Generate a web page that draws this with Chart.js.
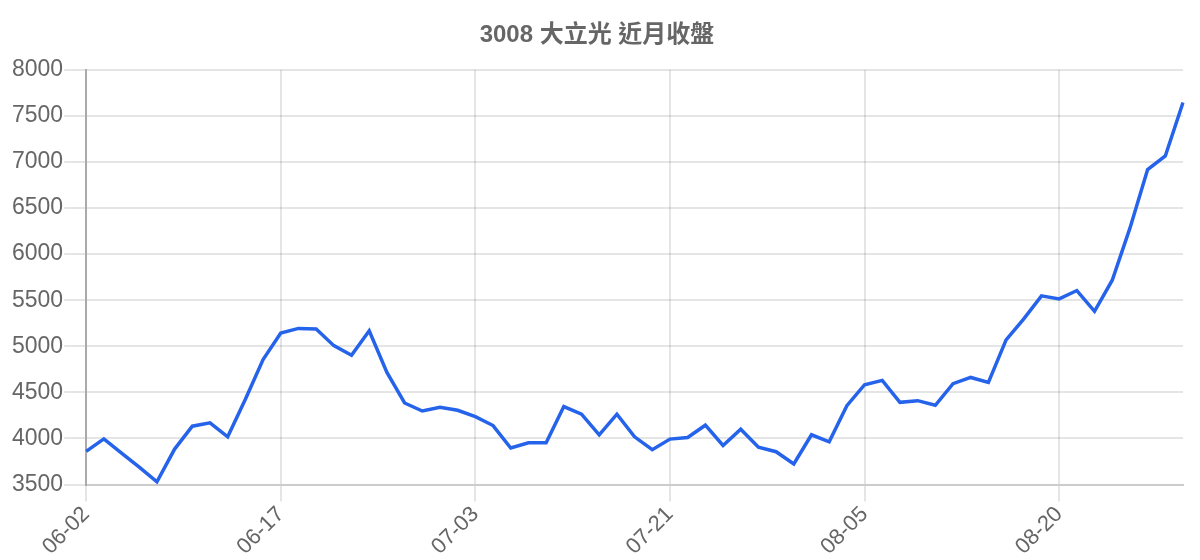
<!DOCTYPE html>
<html>
<head>
<meta charset="utf-8">
<script src="https://cdn.jsdelivr.net/npm/chart.js@4"></script>
<style>
  html, body { margin: 0; padding: 0; background: #fff; }
  #wrap { width: 1200px; height: 560px; }
</style>
</head>
<body>
<div id="wrap"><canvas id="c"></canvas></div>
<script>
const title = "3008 大立光 近月收盤";
const dates = [
  "06-02","06-03","06-04","06-05","06-06","06-09","06-10","06-11","06-12","06-13",
  "06-16","06-17","06-18","06-19","06-20","06-23","06-24","06-25","06-26","06-30",
  "07-01","07-02","07-03","07-04","07-07","07-08","07-09","07-10","07-14","07-15",
  "07-16","07-17","07-18","07-21","07-22","07-23","07-24","07-25","07-28","07-29",
  "07-30","07-31","08-01","08-04","08-05","08-06","08-07","08-08","08-11","08-12",
  "08-13","08-14","08-15","08-18","08-19","08-20","08-21","08-22","08-25","08-26",
  "08-27","08-28","08-29"
];
const closes = [
  3860, 3995, 3840, 3690, 3530, 3885, 4133, 4169, 4018, 4425,
  4857, 5144, 5194, 5187, 5007, 4902, 5169, 4716, 4385, 4298,
  4338, 4306, 4237, 4140, 3896, 3953, 3953, 4346, 4263, 4040,
  4263, 4018, 3878, 3993, 4011, 4144, 3924, 4101, 3906, 3856,
  3723, 4040, 3964, 4356, 4583, 4630, 4392, 4410, 4360, 4594,
  4662, 4609, 5069, 5297, 5547, 5514, 5605, 5380, 5717, 6282,
  6917, 7065, 7645
];
const yMin = 3500, yMax = 8000, yStep = 500;

const fontFamily = "'Liberation Sans', Arial, 'Noto Sans CJK TC', sans-serif";

new Chart(document.getElementById('c'), {
  type: 'line',
  data: {
    labels: dates,
    datasets: [{
      label: title,
      data: closes,
      borderColor: '#2563eb',
      backgroundColor: '#2563eb',
      borderWidth: 3.5,
      pointRadius: 0,
      pointHoverRadius: 4,
      tension: 0,
      fill: false
    }]
  },
  options: {
    responsive: true,
    maintainAspectRatio: false,
    animation: false,
    layout: { padding: { top: 11, right: 17, bottom: 0, left: 11 } },
    plugins: {
      legend: { display: false },
      title: {
        display: true,
        text: title,
        color: '#666',
        font: { family: fontFamily, size: 24, weight: 'bold' },
        padding: { top: 10, bottom: 20 }
      },
      tooltip: { enabled: true }
    },
    scales: {
      x: {
        grid: { color: 'rgba(0,0,0,0.1)', lineWidth: 2, tickLength: 17 },
        border: { color: '#cccccc', width: 2 },
        ticks: {
          color: '#666',
          font: { family: fontFamily, size: 22 },
          autoSkip: true,
          maxTicksLimit: 6,
          minRotation: 45,
          maxRotation: 45,
          padding: 0
        }
      },
      y: {
        min: yMin,
        max: yMax,
        grid: { color: 'rgba(0,0,0,0.1)', lineWidth: 2, tickLength: 22 },
        border: { color: '#aaaaaa', width: 2 },
        ticks: {
          stepSize: yStep,
          color: '#666',
          font: { family: fontFamily, size: 23 },
          padding: 1,
          callback: function (v) { return String(v); }
        }
      }
    }
  }
});
</script>
</body>
</html>
